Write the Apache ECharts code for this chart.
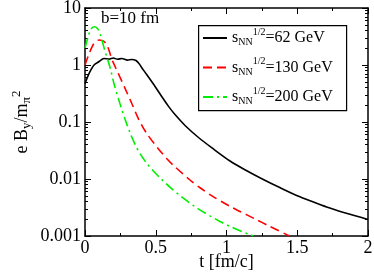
<!DOCTYPE html>
<html><head><meta charset="utf-8">
<script src="https://cdn.jsdelivr.net/npm/echarts@6/dist/echarts.min.js"></script>
<style>html,body{margin:0;padding:0;background:#fff}#c{width:374px;height:275px}</style>
</head><body><div id="c"></div>
<script>
// sqrt(s_NN) = 62 GeV
const t62 = [0, 0.03, 0.064, 0.1, 0.134, 0.17, 0.2, 0.23, 0.26, 0.3, 0.33, 0.36, 0.38, 0.412, 0.447, 0.495, 0.542, 0.589, 0.636, 0.707, 0.8, 0.895, 1.025, 1.14, 1.26, 1.38, 1.5, 1.61, 1.73, 1.86, 2.0];
const v62 = [0.47, 0.72, 1.0, 1.15, 1.3, 1.27, 1.33, 1.26, 1.3, 1.22, 1.25, 1.2, 1.07, 0.82, 0.62, 0.42, 0.28, 0.19, 0.135, 0.087, 0.054, 0.0355, 0.0207, 0.0141, 0.0098, 0.007, 0.0051, 0.004, 0.0031, 0.00245, 0.00195];
// sqrt(s_NN) = 130 GeV
const t130 = [0, 0.03, 0.064, 0.1, 0.134, 0.16, 0.18, 0.2, 0.23, 0.283, 0.33, 0.377, 0.436, 0.518, 0.577, 0.624, 0.742, 0.81, 0.9, 1.025, 1.095, 1.2, 1.3, 1.445];
const v130 = [1.0, 1.6, 2.4, 2.75, 2.6, 2.1, 1.5, 1.1, 0.76, 0.39, 0.213, 0.115, 0.063, 0.034, 0.0229, 0.0174, 0.0096, 0.0071, 0.005, 0.0033, 0.0027, 0.002, 0.0015, 0.001];
// sqrt(s_NN) = 200 GeV
const t200 = [0, 0.02, 0.04, 0.064, 0.087, 0.105, 0.122, 0.14, 0.158, 0.18, 0.205, 0.247, 0.283, 0.318, 0.353, 0.39, 0.435, 0.483, 0.53, 0.6, 0.695, 0.8, 0.954, 1.05, 1.19];
const v200 = [2.0, 3.0, 4.2, 4.7, 4.4, 3.6, 2.6, 1.8, 1.3, 0.85, 0.47, 0.21, 0.112, 0.065, 0.041, 0.0275, 0.019, 0.0138, 0.0105, 0.0072, 0.0046, 0.003, 0.0018, 0.00138, 0.001];

const seriesNames = ['62 GeV', '130 GeV', '200 GeV'];
const seriesColors = ['#000000', '#ff0000', '#00ee00'];
const xTickLabels = ['0', '0.5', '1', '1.5', '2'];
const yTickLabels = ['0.001', '0.01', '0.1', '1', '10'];
const annotation = 'b=10 fm';

const FONT = '"Liberation Serif", "Times New Roman", serif';
const zip = (a, b) => a.map((t, i) => [t, b[i]]);
const ylab = v => {
  const k = Math.round(Math.log10(v)) + 3;
  return yTickLabels[k] !== undefined ? yTickLabels[k] : '';
};
const xlab = v => {
  const i = Math.round(v * 2);
  return Math.abs(v * 2 - i) < 1e-6 && xTickLabels[i] !== undefined ? xTickLabels[i] : '';
};

const chart = echarts.init(document.getElementById('c'), null, {renderer: 'canvas'});
const axisCommon = {
  axisLine: {show: true, onZero: false, lineStyle: {color: '#000', width: 1.5}},
  splitLine: {show: false},
};
chart.setOption({
  animation: false,
  backgroundColor: '#fff',
  grid: {left: 85, right: 6, top: 8, bottom: 39, containLabel: false, outerBoundsMode: 'none'},
  xAxis: [
    Object.assign({
      type: 'value', min: 0, max: 2, interval: 0.5, position: 'bottom',
      axisTick: {show: true, inside: true, length: 6, lineStyle: {color: '#000', width: 1}},
      minorTick: {show: true, splitNumber: 2, length: 3, lineStyle: {color: '#000', width: 1}},
      axisLabel: {formatter: xlab, fontFamily: FONT, fontSize: 18, color: '#000', margin: 3},
      name: 't [fm/c]', nameLocation: 'middle', nameGap: 17, nameMoveOverlap: false,
      nameTextStyle: {fontFamily: FONT, fontSize: 18, color: '#000'}
    }, axisCommon),
    Object.assign({
      type: 'value', min: 0, max: 2, interval: 0.5, position: 'top',
      axisTick: {show: true, inside: true, length: 6, lineStyle: {color: '#000', width: 1}},
      minorTick: {show: true, splitNumber: 2, length: 3, lineStyle: {color: '#000', width: 1}},
      axisLabel: {show: false}
    }, axisCommon)
  ],
  yAxis: [
    Object.assign({
      type: 'log', logBase: 10, min: 0.001, max: 10, position: 'left',
      axisTick: {show: true, inside: true, length: 6, lineStyle: {color: '#000', width: 1}},
      minorTick: {show: true, splitNumber: 9, length: 3, lineStyle: {color: '#000', width: 1}},
      axisLabel: {formatter: ylab, fontFamily: FONT, fontSize: 18, color: '#000', margin: 4},
      name: '{n|e B}{sub|y}{n|/m}{sub|π}{sup|2}',
      nameLocation: 'middle', nameRotate: 90, nameGap: 50, nameMoveOverlap: false,
      nameTextStyle: {
        fontFamily: FONT, fontSize: 18, color: '#000',
        rich: {
          n: {fontFamily: FONT, fontSize: 18, color: '#000'},
          sub: {fontFamily: FONT, fontSize: 13, color: '#000', padding: [9, 0, 0, 0]},
          sup: {fontFamily: FONT, fontSize: 13, color: '#000', padding: [0, 0, 12, 0]}
        }
      }
    }, axisCommon),
    Object.assign({
      type: 'log', logBase: 10, min: 0.001, max: 10, position: 'right',
      axisTick: {show: true, inside: true, length: 6, lineStyle: {color: '#000', width: 1}},
      minorTick: {show: true, splitNumber: 9, length: 3, lineStyle: {color: '#000', width: 1}},
      axisLabel: {show: false}
    }, axisCommon)
  ],
  legend: {
    show: true, orient: 'vertical', left: 198, top: 20, z: 10,
    itemWidth: 24, itemHeight: 10, itemGap: 9,
    padding: [7, 3, 7, 4],
    borderWidth: 0, backgroundColor: 'rgba(0,0,0,0)',
    data: seriesNames,
    itemStyle: {color: 'rgba(0,0,0,0)', borderWidth: 0, opacity: 0},
    formatter: name => '{s|s}{sub|NN}{sup|1/2}{n|=' + name + '}',
    textStyle: {
      fontFamily: FONT, fontSize: 16, color: '#000',
      rich: {
        s: {fontFamily: FONT, fontSize: 16, color: '#000'},
        n: {fontFamily: FONT, fontSize: 16, color: '#000'},
        sub: {fontFamily: FONT, fontSize: 10, color: '#000', padding: [9, 0, 0, 0]},
        sup: {fontFamily: FONT, fontSize: 10, color: '#000', padding: [0, 0, 12, 0]}
      }
    }
  },
  graphic: [
    {type: 'rect', left: 198, top: 25, z: 5,
     shape: {width: 148, height: 85},
     style: {fill: '#fff', stroke: '#000', lineWidth: 1.2}},
    {type: 'text', left: 101, top: 10, z: 5,
     style: {text: annotation, font: '17px ' + FONT, fill: '#000'}}
  ],
  series: [
    {name: seriesNames[0], type: 'line', data: zip(t62, v62), symbol: 'none', smooth: 0.3,
     lineStyle: {color: seriesColors[0], width: 1.6, type: 'solid'}, itemStyle: {color: seriesColors[0]}},
    {name: seriesNames[1], type: 'line', data: zip(t130, v130), symbol: 'none', smooth: 0.3,
     lineStyle: {color: seriesColors[1], width: 1.6, type: [9, 5]}, itemStyle: {color: seriesColors[1]}},
    {name: seriesNames[2], type: 'line', data: zip(t200, v200), symbol: 'none', smooth: 0.3,
     lineStyle: {color: seriesColors[2], width: 1.6, type: [10, 4, 2, 4]}, itemStyle: {color: seriesColors[2]}}
  ]
});
</script></body></html>
